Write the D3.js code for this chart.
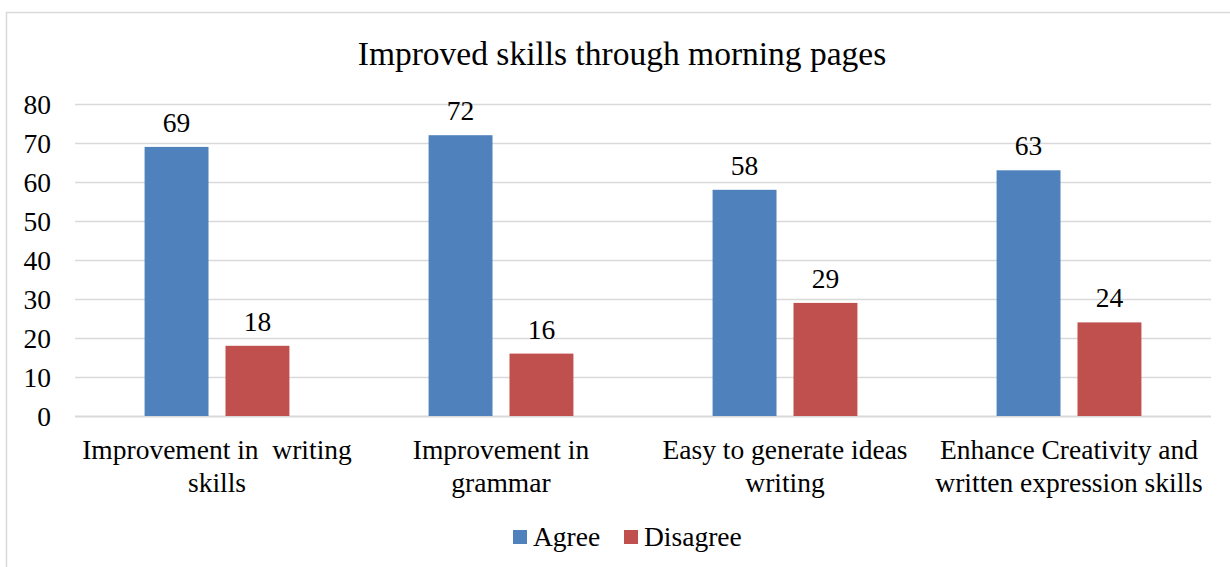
<!DOCTYPE html>
<html><head><meta charset="utf-8">
<script src="https://cdn.jsdelivr.net/npm/d3@7"></script>
<style>body{margin:0;background:#fff}svg{display:block}text{font-family:"Liberation Serif","Times New Roman",serif;fill:#000}</style>
</head><body><svg id="c" width="1230" height="567"></svg>
<script>
const title = "Improved skills through morning pages";
const categories = [["Improvement in  writing","skills"],["Improvement in","grammar"],["Easy to generate ideas","writing"],["Enhance Creativity and","written expression skills"]];
const seriesNames = ["Agree","Disagree"];
const agree = [69,72,58,63];
const disagree = [18,16,29,24];
const yTicks = [0,10,20,30,40,50,60,70,80];
const colors = ["#4F81BD","#C0504D"];

const svg = d3.select("#c");
svg.append("rect").attr("x",6.5).attr("y",12.5).attr("width",1240).attr("height",600).attr("fill","none").attr("stroke","#d9d9d9").attr("stroke-width",1.5);

const pLeft=75,pRight=1211,pTop=104,pBottom=416;
const y = d3.scaleLinear().domain([0,80]).range([pBottom,pTop]);
const x0 = d3.scaleBand().domain(d3.range(categories.length)).range([pLeft,pRight]);
const x1 = d3.scaleBand().domain(seriesNames).range([0,x0.bandwidth()]).paddingInner(0.21).paddingOuter(0.86);

svg.append("text").attr("x",622).attr("y",65).attr("text-anchor","middle").style("font-size","33.5px").text(title);

const gy = svg.append("g");
yTicks.forEach(t=>{
  gy.append("line").attr("x1",pLeft).attr("x2",pRight).attr("y1",y(t)+0.5).attr("y2",y(t)+0.5).attr("stroke","#d9d9d9").attr("stroke-width",t===0?2:1.5);
  gy.append("text").attr("x",51).attr("y",y(t)).attr("dy","0.35em").attr("text-anchor","end").style("font-size","27.5px").text(t);
});

const data = [agree,disagree];
seriesNames.forEach((s,si)=>{
  data[si].forEach((v,i)=>{
    const bx = x0(i)+x1(s);
    svg.append("rect").attr("x",bx).attr("y",y(v)).attr("width",x1.bandwidth()).attr("height",y(0)-y(v)).attr("fill",colors[si]);
    svg.append("text").attr("x",bx+x1.bandwidth()/2).attr("y",y(v)-15).attr("text-anchor","middle").style("font-size","27.5px").text(v);
  });
});

categories.forEach((lines,i)=>{
  const cx = x0(i)+x0.bandwidth()/2;
  lines.forEach((l,j)=>{
    svg.append("text").attr("x",cx).attr("y",459+j*33).attr("text-anchor","middle").style("font-size","27.5px").style("white-space","pre").text(l);
  });
});

const leg = svg.append("g");
const legX=[513,624];
seriesNames.forEach((s,si)=>{
  leg.append("rect").attr("x",legX[si]).attr("y",530).attr("width",14).attr("height",14).attr("fill",colors[si]);
  leg.append("text").attr("x",legX[si]+20).attr("y",546).style("font-size","27.5px").text(s);
});
</script></body></html>
